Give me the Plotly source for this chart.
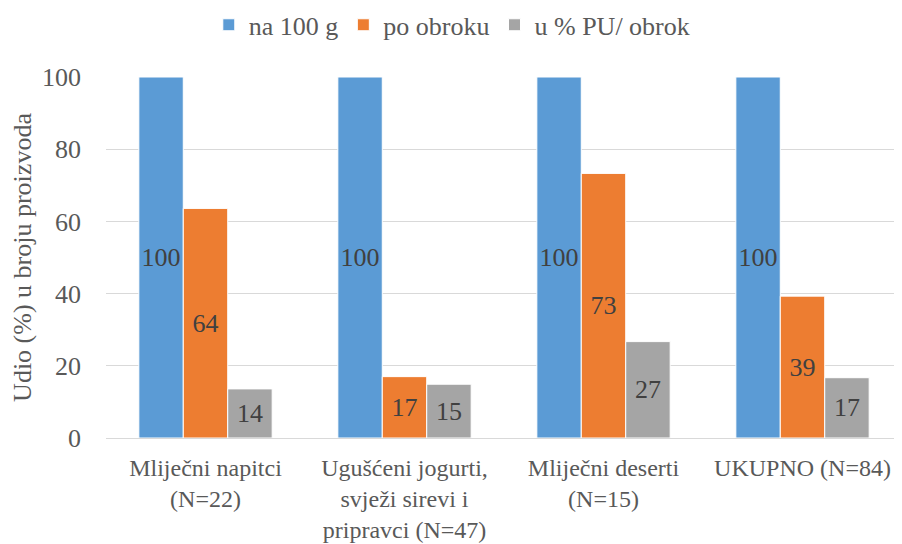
import plotly.graph_objects as go

categories = ["Mliječni napitci<br>(N=22)", "Ugušćeni jogurti,<br>svježi sirevi i<br>pripravci (N=47)",
              "Mliječni deserti<br>(N=15)", "UKUPNO (N=84)"]
series_names = ["na 100 g", "po obroku", "u % PU/ obrok"]
na_100g = [100, 100, 100, 100]
po_obroku = [63.6, 17.0, 73.3, 39.3]
u_pu_obrok = [13.6, 14.9, 26.7, 16.7]
colors = ["#5B9BD5", "#ED7D31", "#A5A5A5"]
y_ticks = [0, 20, 40, 60, 80, 100]

FONT = "Liberation Serif"
fig = go.Figure()
for name, vals, col in zip(series_names, [na_100g, po_obroku, u_pu_obrok], colors):
    fig.add_trace(go.Bar(
        x=categories, y=vals, name=name,
        marker=dict(color=col, line=dict(color="white", width=1)),
        text=[f"{v:.0f}" for v in vals],
        textposition="inside", insidetextanchor="middle", textangle=0,
        textfont=dict(family=FONT, size=26, color="#404040"),
        cliponaxis=False,
    ))

# page has an 8px body margin, so margins are offset by 8px
fig.update_layout(
    width=902, height=544,
    margin=dict(l=98, r=8, t=69, b=114),
    barmode="group", bargap=0.33, bargroupgap=0,
    plot_bgcolor="white", paper_bgcolor="white",
    font=dict(family=FONT, size=26, color="#595959"),
    uniformtext=dict(minsize=26, mode="show"),
    legend=dict(orientation="h", x=0.492, xanchor="center", xref="container",
                y=0.969, yanchor="middle", yref="container",
                font=dict(family=FONT, size=26, color="#595959"),
                traceorder="normal"),
    showlegend=True,
)
fig.update_yaxes(range=[0, 100], tickvals=y_ticks, showgrid=True, gridcolor="#D9D9D9",
                 gridwidth=1, zeroline=False, ticks="", ticklabelstandoff=24,
                 automargin=False,
                 tickfont=dict(family=FONT, size=26, color="#595959"),
                 title=dict(text="Udio (%) u broju proizvoda",
                            font=dict(family=FONT, size=26, color="#595959"), standoff=8))
fig.update_xaxes(showline=True, linecolor="#D9D9D9", linewidth=1, ticks="",
                 ticklabelstandoff=8, automargin=False,
                 tickfont=dict(family=FONT, size=24, color="#595959"))

fig.write_html("out.html")
